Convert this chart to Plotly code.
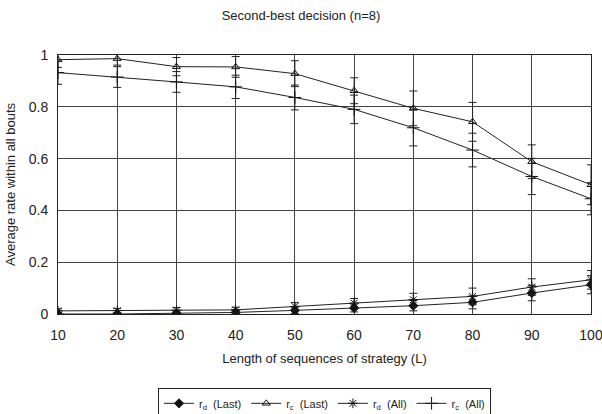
import plotly.graph_objects as go

x_vals = [10, 20, 30, 40, 50, 60, 70, 80, 90, 100]
rd_last = [0.0, 0.0, 0.003, 0.006, 0.014, 0.023, 0.032, 0.045, 0.081, 0.113]
rc_last = [0.982, 0.986, 0.955, 0.954, 0.928, 0.862, 0.794, 0.742, 0.588, 0.499]
rd_all = [0.012, 0.013, 0.015, 0.016, 0.029, 0.042, 0.055, 0.068, 0.104, 0.132]
rc_all = [0.932, 0.915, 0.896, 0.877, 0.836, 0.79, 0.719, 0.633, 0.531, 0.445]

rd_last_err = [0.005, 0.005, 0.008, 0.008, 0.012, 0.015, 0.02, 0.025, 0.03, 0.035]
rc_last_err = [0.03, 0.025, 0.035, 0.04, 0.05, 0.05, 0.067, 0.075, 0.065, 0.077]
rd_all_err = [0.008, 0.008, 0.01, 0.01, 0.015, 0.018, 0.025, 0.032, 0.032, 0.036]
rc_all_err = [0.045, 0.04, 0.04, 0.045, 0.048, 0.055, 0.07, 0.065, 0.07, 0.062]

y_ticks = [0, 0.2, 0.4, 0.6, 0.8, 1]
y_tick_text = ["0", "0.2", "0.4", "0.6", "0.8", "1"]

names = ["r<sub>d</sub>  (Last)", "r<sub>c</sub>  (Last)", "r<sub>d</sub>  (All)", "r<sub>c</sub>  (All)"]
series = [rd_last, rc_last, rd_all, rc_all]
errs = [rd_last_err, rc_last_err, rd_all_err, rc_all_err]
symbols = ["diamond", "triangle-up-open", "asterisk-open", "cross-thin-open"]
sizes = [7, 7, 8, 9]

fig = go.Figure()
for name, ys, er, sym, sz in zip(names, series, errs, symbols, sizes):
    fig.add_trace(go.Scatter(
        x=x_vals, y=ys, name=name, mode="lines+markers",
        line=dict(color="#222222", width=1),
        marker=dict(symbol=sym, size=sz, color="#111111",
                    line=dict(color="#111111", width=1)),
        error_y=dict(type="data", array=er, visible=True,
                     color="#222222", thickness=1, width=4),
    ))

fig.update_layout(
    width=602, height=414,
    margin=dict(l=58, r=11, t=55, b=100, autoexpand=False),
    paper_bgcolor="white", plot_bgcolor="white",
    font=dict(family="Liberation Sans, Arial, sans-serif", size=13, color="#222222"),
    title=dict(text="Second-best decision (n=8)", x=0.5, xanchor="center",
               y=0.963, yanchor="middle", font=dict(size=13)),
    xaxis=dict(range=[10, 100], tickmode="array", tickvals=x_vals,
               showgrid=True, gridcolor="#444444", gridwidth=1,
               showline=True, linecolor="#222222", linewidth=1, mirror=True,
               zeroline=False, ticks="", automargin=False,
               ticklabeloverflow="allow",
               tickfont=dict(size=14), ticklabelstandoff=8,
               title=dict(text="Length of sequences of strategy (L)", standoff=12,
                          font=dict(size=13))),
    yaxis=dict(range=[0, 1], tickmode="array",
               tickvals=y_ticks, ticktext=y_tick_text,
               showgrid=True, gridcolor="#444444", gridwidth=1,
               showline=True, linecolor="#222222", linewidth=1, mirror=True,
               zeroline=False, ticks="", automargin=False,
               ticklabeloverflow="allow",
               tickfont=dict(size=14), ticklabelstandoff=6,
               title=dict(text="Average rate within all bouts", standoff=10,
                          font=dict(size=13))),
    legend=dict(orientation="h", x=0.5, xanchor="center", y=-0.285, yanchor="top",
                bordercolor="#222222", borderwidth=1, font=dict(size=11),
                itemwidth=30, tracegroupgap=0),
    showlegend=True,
)

fig.write_html("out.html")
